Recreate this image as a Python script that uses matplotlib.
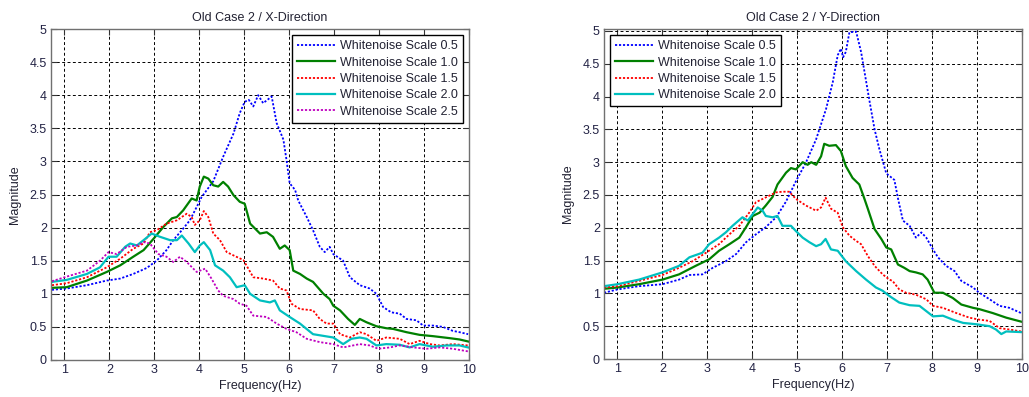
import matplotlib
matplotlib.use("Agg")
import matplotlib.pyplot as plt
from matplotlib.ticker import FormatStrFormatter

plt.rcParams['font.family'] = ['Liberation Sans', 'DejaVu Sans']
plt.rcParams['font.size'] = 9

# ---- X-direction data ----
x_f05 = [0.72, 1.05, 1.5, 1.94, 2.24, 2.53, 2.83, 3.05, 3.27, 3.42, 3.61, 3.79, 3.94, 4.05,
         4.31, 4.53, 4.76, 4.9, 5.01, 5.1, 5.2, 5.31, 5.42, 5.61, 5.72, 5.87, 5.94, 6.01, 6.13,
         6.2, 6.39, 6.53, 6.68, 6.79, 6.9, 6.98, 7.09, 7.2, 7.35, 7.57, 7.79, 7.94, 8.09, 8.27,
         8.46, 8.61, 8.83, 8.98, 9.2, 9.42, 9.64, 9.79, 9.98]
x_m05 = [1.06, 1.08, 1.13, 1.2, 1.23, 1.3, 1.39, 1.5, 1.66, 1.81, 1.96, 2.11, 2.31, 2.46,
         2.7, 3.07, 3.42, 3.73, 3.9, 3.93, 3.83, 4.0, 3.88, 3.98, 3.58, 3.33, 3.02, 2.67, 2.57,
         2.41, 2.16, 1.96, 1.71, 1.63, 1.71, 1.6, 1.55, 1.5, 1.25, 1.13, 1.08, 1.0, 0.8, 0.72,
         0.7, 0.62, 0.6, 0.52, 0.52, 0.5, 0.44, 0.42, 0.39]

x_f10 = [0.72, 1.05, 1.5, 1.94, 2.24, 2.53, 2.76, 2.98, 3.2, 3.39, 3.5, 3.64, 3.83, 3.94,
         4.01, 4.1, 4.2, 4.31, 4.42, 4.53, 4.64, 4.76, 4.9, 5.01, 5.13, 5.35, 5.5, 5.64, 5.79,
         5.9, 6.01, 6.09, 6.24, 6.39, 6.53, 6.76, 6.9, 6.98, 7.13, 7.31, 7.46, 7.57, 7.72, 7.94,
         8.16, 8.31, 8.61, 8.9, 9.2, 9.57, 9.79, 9.98]
x_m10 = [1.09, 1.1, 1.2, 1.33, 1.43, 1.56, 1.66, 1.83, 2.01, 2.14, 2.16, 2.26, 2.44, 2.41,
         2.62, 2.77, 2.74, 2.64, 2.62, 2.69, 2.62, 2.49, 2.39, 2.36, 2.06, 1.91, 1.93, 1.86, 1.68,
         1.73, 1.66, 1.35, 1.3, 1.23, 1.18, 1.0, 0.92, 0.82, 0.75, 0.62, 0.53, 0.62, 0.57, 0.51,
         0.48, 0.47, 0.42, 0.38, 0.36, 0.33, 0.31, 0.28]

x_f15 = [0.72, 1.05, 1.5, 1.94, 2.24, 2.53, 2.76, 2.9, 3.05, 3.27, 3.5, 3.72, 3.83, 3.9,
         4.01, 4.1, 4.2, 4.31, 4.46, 4.61, 4.76, 4.98, 5.2, 5.42, 5.64, 5.79, 5.94, 6.05, 6.24,
         6.53, 6.68, 6.83, 6.98, 7.13, 7.35, 7.57, 7.72, 7.94, 8.16, 8.46, 8.68, 8.9, 9.13, 9.35,
         9.64, 9.98]
x_m15 = [1.13, 1.16, 1.25, 1.4, 1.53, 1.68, 1.76, 1.93, 1.96, 2.06, 2.11, 2.21, 2.16, 2.04,
         2.11, 2.25, 2.16, 1.91, 1.81, 1.63, 1.58, 1.51, 1.25, 1.23, 1.2, 1.08, 1.05, 0.85, 0.77,
         0.75, 0.62, 0.55, 0.55, 0.39, 0.34, 0.42, 0.39, 0.29, 0.34, 0.32, 0.24, 0.29, 0.24, 0.22,
         0.24, 0.22]

x_f20 = [0.72, 1.05, 1.5, 1.79, 1.98, 2.16, 2.35, 2.46, 2.61, 2.76, 2.94, 3.13, 3.35, 3.5,
         3.61, 3.76, 3.9, 4.01, 4.1, 4.24, 4.35, 4.53, 4.68, 4.83, 5.01, 5.13, 5.35, 5.57, 5.68,
         5.79, 6.01, 6.24, 6.53, 6.98, 7.2, 7.38, 7.57, 7.72, 7.94, 8.16, 8.46, 8.68, 8.9, 9.2,
         9.5, 9.79, 9.98]
x_m20 = [1.18, 1.21, 1.3, 1.4, 1.56, 1.56, 1.71, 1.76, 1.73, 1.81, 1.91, 1.86, 1.81, 1.81,
         1.88, 1.76, 1.63, 1.73, 1.78, 1.66, 1.43, 1.35, 1.25, 1.1, 1.13, 1.0, 0.9, 0.87, 0.9,
         0.75, 0.65, 0.55, 0.39, 0.34, 0.24, 0.32, 0.34, 0.32, 0.22, 0.24, 0.23, 0.19, 0.24, 0.2,
         0.22, 0.22, 0.19]

x_f25 = [0.72, 1.05, 1.5, 1.79, 1.98, 2.16, 2.39, 2.61, 2.76, 2.9, 3.09, 3.27, 3.42, 3.57,
         3.72, 3.94, 4.13, 4.27, 4.42, 4.53, 4.76, 4.9, 5.05, 5.2, 5.5, 5.72, 5.94, 6.16, 6.39,
         6.68, 6.98, 7.2, 7.57, 7.79, 7.98, 8.24, 8.46, 8.76, 9.05, 9.35, 9.64, 9.98]
x_m25 = [1.19, 1.26, 1.35, 1.5, 1.63, 1.6, 1.71, 1.73, 1.78, 1.76, 1.6, 1.56, 1.48, 1.56,
         1.48, 1.33, 1.38, 1.23, 1.05, 0.97, 0.92, 0.85, 0.82, 0.67, 0.65, 0.55, 0.47, 0.42, 0.32,
         0.27, 0.24, 0.19, 0.24, 0.22, 0.17, 0.19, 0.22, 0.19, 0.17, 0.19, 0.17, 0.13]

# ---- Y-direction data ----
y_f05 = [0.7, 1.0, 1.48, 2.0, 2.37, 2.6, 2.89, 3.12, 3.41, 3.64, 3.86, 4.08, 4.3, 4.53, 4.75,
         4.97, 5.19, 5.42, 5.64, 5.79, 5.9, 5.97, 6.02, 6.08, 6.16, 6.31, 6.42, 6.6, 6.72, 6.83,
         6.98, 7.16, 7.24, 7.35, 7.5, 7.64, 7.76, 7.87, 8.02, 8.13, 8.31, 8.5, 8.65, 8.91, 9.05,
         9.28, 9.5, 9.72, 9.98]
y_m05 = [1.01, 1.06, 1.11, 1.14, 1.21, 1.28, 1.29, 1.39, 1.49, 1.6, 1.78, 1.9, 2.01, 2.16, 2.4,
         2.71, 2.99, 3.35, 3.81, 4.22, 4.63, 4.73, 4.6, 4.68, 4.98, 4.99, 4.68, 3.96, 3.5, 3.19,
         2.83, 2.73, 2.45, 2.11, 2.03, 1.85, 1.93, 1.85, 1.67, 1.55, 1.42, 1.34, 1.19, 1.09, 1.01,
         0.91, 0.81, 0.78, 0.7]

y_f10 = [0.7, 1.0, 1.48, 2.0, 2.37, 2.74, 3.04, 3.26, 3.49, 3.71, 3.86, 4.01, 4.16, 4.3, 4.45,
         4.56, 4.75, 4.86, 4.97, 5.12, 5.23, 5.31, 5.42, 5.53, 5.6, 5.71, 5.86, 5.97, 6.08, 6.23,
         6.38, 6.49, 6.57, 6.72, 6.87, 6.98, 7.09, 7.24, 7.38, 7.5, 7.64, 7.79, 7.9, 8.05, 8.24,
         8.46, 8.65, 8.91, 9.05, 9.35, 9.65, 9.98]
y_m10 = [1.07, 1.09, 1.14, 1.21, 1.29, 1.42, 1.52, 1.65, 1.75, 1.85, 2.01, 2.18, 2.23, 2.34, 2.47,
         2.66, 2.84, 2.91, 2.89, 3.0, 2.96, 3.0, 2.96, 3.09, 3.28, 3.25, 3.26, 3.17, 2.94, 2.76,
         2.66, 2.45, 2.29, 1.98, 1.83, 1.7, 1.67, 1.44, 1.39, 1.34, 1.32, 1.29, 1.21, 1.01, 1.01,
         0.93, 0.83, 0.78, 0.76, 0.7, 0.63, 0.57]

y_f15 = [0.7, 1.0, 1.48, 2.0, 2.37, 2.67, 2.97, 3.26, 3.49, 3.71, 3.93, 4.08, 4.23, 4.38, 4.53,
         4.67, 4.82, 4.97, 5.19, 5.42, 5.53, 5.63, 5.75, 5.9, 6.01, 6.16, 6.31, 6.42, 6.57, 6.72,
         6.9, 7.05, 7.12, 7.27, 7.42, 7.64, 7.87, 8.02, 8.24, 8.54, 8.83, 9.05, 9.28, 9.5, 9.72,
         9.98]
y_m15 = [1.09, 1.11, 1.19, 1.28, 1.39, 1.49, 1.62, 1.75, 1.9, 2.03, 2.23, 2.39, 2.44, 2.49, 2.54,
         2.55, 2.55, 2.44, 2.34, 2.26, 2.31, 2.46, 2.29, 2.23, 2.01, 1.88, 1.8, 1.75, 1.57, 1.42,
         1.29, 1.21, 1.19, 1.06, 1.01, 0.98, 0.91, 0.81, 0.78, 0.7, 0.63, 0.6, 0.58, 0.47, 0.45,
         0.42]

y_f20 = [0.7, 1.0, 1.48, 2.0, 2.37, 2.6, 2.89, 3.04, 3.26, 3.41, 3.56, 3.78, 3.9, 4.01, 4.12,
         4.23, 4.3, 4.45, 4.56, 4.67, 4.86, 4.97, 5.12, 5.27, 5.42, 5.53, 5.63, 5.75, 5.9, 6.08,
         6.31, 6.53, 6.75, 6.9, 7.05, 7.27, 7.5, 7.72, 7.87, 8.02, 8.24, 8.46, 8.69, 8.98, 9.28,
         9.42, 9.54, 9.65, 9.98]
y_m20 = [1.11, 1.14, 1.21, 1.32, 1.42, 1.55, 1.62, 1.75, 1.85, 1.93, 2.03, 2.16, 2.11, 2.21, 2.31,
         2.26, 2.18, 2.16, 2.18, 2.03, 2.03, 1.95, 1.85, 1.78, 1.72, 1.75, 1.83, 1.67, 1.65, 1.49,
         1.34, 1.21, 1.09, 1.04, 0.96, 0.86, 0.82, 0.81, 0.73, 0.65, 0.66, 0.6, 0.55, 0.53, 0.5,
         0.45, 0.38, 0.42, 0.41]

labels = ['Whitenoise Scale 0.5', 'Whitenoise Scale 1.0', 'Whitenoise Scale 1.5',
          'Whitenoise Scale 2.0', 'Whitenoise Scale 2.5']
colors = ['#0000ff', '#008000', '#ff0000', '#00bfbf', '#bf00bf']
dotted = [True, False, True, False, True]

x_series = [(x_f05, x_m05), (x_f10, x_m10), (x_f15, x_m15), (x_f20, x_m20), (x_f25, x_m25)]
y_series = [(y_f05, y_m05), (y_f10, y_m10), (y_f15, y_m15), (y_f20, y_m20)]

fig = plt.figure(figsize=(10.29, 3.97), dpi=100)
ax1 = fig.add_axes([51 / 1029, 37 / 397, 418 / 1029, 331 / 397])
ax2 = fig.add_axes([604 / 1029, 38 / 397, 418 / 1029, 330 / 397])


def draw(ax, series, title, ytop):
    for i, (f, m) in enumerate(series):
        if dotted[i]:
            ax.plot(f, m, color=colors[i], lw=1.3, dashes=(1.2, 1.0), label=labels[i])
        else:
            ax.plot(f, m, color=colors[i], lw=1.6, label=labels[i])
    ax.set_xlim(0.7, 10)
    ax.set_ylim(0, ytop)
    ax.set_xticks(range(1, 11))
    ax.set_yticks([i * 0.5 for i in range(11)])
    ax.yaxis.set_major_formatter(FormatStrFormatter('%g'))
    ax.grid(True, color='black', linestyle=(0, (3, 2.5)), linewidth=0.7)
    ax.tick_params(direction='in', length=4, colors='#333333', labelcolor='#222244',
                   top=True, right=True, pad=3)
    for s in ax.spines.values():
        s.set_color('#707070')
        s.set_linewidth(1.0)
    ax.set_title(title, fontsize=9, color='#222233', pad=6)
    ax.set_xlabel('Frequency(Hz)', color='#222233', labelpad=3)
    ax.set_ylabel('Magnitude', color='#222233', labelpad=6)


draw(ax1, x_series, 'Old Case 2 / X-Direction', 5)
draw(ax2, y_series, 'Old Case 2 / Y-Direction', 5.03)

leg_opts = dict(fancybox=False, edgecolor='black', framealpha=1, handlelength=3.0,
                handletextpad=0.4, borderaxespad=0.5, labelspacing=0.35, fontsize=9)
leg1 = ax1.legend(loc='upper right', **leg_opts)
leg2 = ax2.legend(loc='upper left', **leg_opts)
for leg in (leg1, leg2):
    leg.get_frame().set_linewidth(1.0)
    for t in leg.get_texts():
        t.set_color('#222233')

fig.savefig('out.png', dpi=100)
